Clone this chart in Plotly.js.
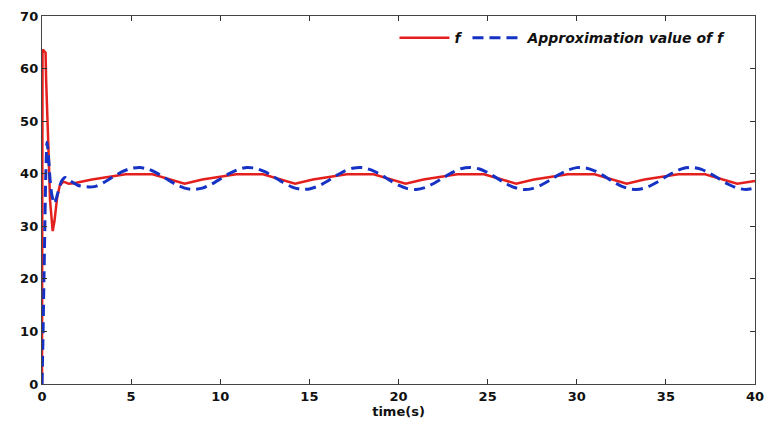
<!DOCTYPE html>
<html>
<head>
<meta charset="utf-8">
<script src="https://cdn.plot.ly/plotly-3.0.1.min.js"></script>
<style>html,body{margin:0;padding:0;background:#fff;}#chart{width:764px;height:428px;}</style>
</head>
<body>
<div id="chart"></div>
<script>
// f (red, solid)
const tF = [0, 0.03, 0.08, 0.2, 0.23, 0.3, 0.36, 0.45, 0.6, 0.7, 0.85, 1.0, 1.2, 1.5,
  1.8, 2.8, 3.8, 4.7, 6.2, 8.0,
  9.0, 10.0, 10.9, 12.4, 14.2,
  15.2, 16.2, 17.1, 18.6, 20.4,
  21.4, 22.4, 23.3, 24.8, 26.6,
  27.6, 28.6, 29.5, 31.0, 32.8,
  33.8, 34.8, 35.7, 37.2, 39.0,
  40.0];
const fVals = [0, 63.5, 63.5, 63.0, 58, 52, 45, 35, 29.1, 31, 35.5, 37.8, 38.5, 38.1,
  38.2, 38.9, 39.5, 39.9, 39.9, 38.1,
  38.9, 39.5, 39.9, 39.9, 38.1,
  38.9, 39.5, 39.9, 39.9, 38.1,
  38.9, 39.5, 39.9, 39.9, 38.1,
  38.9, 39.5, 39.9, 39.9, 38.1,
  38.9, 39.5, 39.9, 39.9, 38.1,
  38.6];

// Approximation value of f (blue, dashed)
const tA = [0, 0.05, 0.1, 0.15, 0.2, 0.28, 0.35, 0.45, 0.55, 0.7, 0.9, 1.1, 1.3, 1.6, 2.0,
  2.5, 3.0, 3.5, 4.0, 4.5, 5.0, 5.5, 6.0, 6.5, 7.0, 7.5, 8.0, 8.5, 9.0, 9.5, 10.0,
  10.5, 11.0, 11.5, 12.0, 12.5, 13.0, 13.5, 14.0, 14.5, 15.0, 15.5, 16.0, 16.5, 17.0,
  17.5, 18.0, 18.5, 19.0, 19.5, 20.0, 20.5, 21.0, 21.5, 22.0, 22.5, 23.0, 23.5, 24.0,
  24.5, 25.0, 25.5, 26.0, 26.5, 27.0, 27.5, 28.0, 28.5, 29.0, 29.5, 30.0, 30.5, 31.0,
  31.5, 32.0, 32.5, 33.0, 33.5, 34.0, 34.5, 35.0, 35.5, 36.0, 36.5, 37.0, 37.5, 38.0,
  38.5, 39.0, 39.5, 40.0];
const aVals = [0, 8, 18, 28, 38, 46, 44, 39, 36, 34.3, 36.5, 38.6, 39.3, 38.6, 37.8,
  37.5, 37.6, 38.4, 39.42, 40.38, 41.03, 41.19, 40.82, 40.02, 38.99, 37.99, 37.26, 37.0, 37.26, 37.99, 38.99,
  40.02, 40.82, 41.19, 41.03, 40.38, 39.42, 38.37, 37.51, 37.04, 37.10, 37.65, 38.57, 39.63, 40.55,
  41.10, 41.16, 40.69, 39.83, 38.78, 37.81, 37.17, 37.01, 37.38, 38.18, 39.21, 40.21, 40.94, 41.2,
  40.94, 40.21, 39.21, 38.18, 37.38, 37.01, 37.17, 37.81, 38.78, 39.83, 40.69, 41.16, 41.10, 40.55,
  39.63, 38.57, 37.65, 37.10, 37.04, 37.51, 38.37, 39.42, 40.38, 41.03, 41.19, 40.82, 40.02, 38.99,
  37.99, 37.26, 37.0, 37.26];

const seriesNames = ['f', 'Approximation value of f'];
const xTicks = [0, 5, 10, 15, 20, 25, 30, 35, 40];
const yTicks = [0, 10, 20, 30, 40, 50, 60, 70];

const FONT = 'DejaVu Sans, Liberation Sans, Arial, sans-serif';

const traces = [
  {x: tF, y: fVals, name: seriesNames[0], type: 'scatter', mode: 'lines',
   line: {color: '#e3201e', width: 2.5}},
  {x: tA, y: aVals, name: seriesNames[1], type: 'scatter', mode: 'lines',
   line: {color: '#1632c4', width: 3, dash: '11px,6px', shape: 'spline', smoothing: 0.6}}
];

const axisCommon = {
  showgrid: false, zeroline: false, showline: true, linecolor: '#444', linewidth: 1.2,
  mirror: 'ticks', ticks: 'inside', ticklen: 5, tickcolor: '#333', tickwidth: 1,
  ticklabeloverflow: 'allow',
  tickfont: {family: FONT, size: 13, color: '#111', weight: 'bold'}
};

const layout = {
  width: 764, height: 428,
  margin: {l: 42, r: 9, t: 16, b: 44},
  paper_bgcolor: '#fff', plot_bgcolor: '#fff',
  showlegend: true,
  legend: {orientation: 'h', x: 0.967, xanchor: 'right', y: 0.94, yanchor: 'middle',
    itemwidth: 50, bgcolor: 'rgba(0,0,0,0)', borderwidth: 0,
    font: {family: FONT, size: 14, color: '#111', weight: 'bold', style: 'italic'}},
  xaxis: Object.assign({}, axisCommon, {range: [0, 40], tickvals: xTicks, ticktext: xTicks.map(String),
    title: {text: 'time(s)', standoff: 4, font: {family: FONT, size: 13, color: '#111', weight: 'bold'}}}),
  yaxis: Object.assign({}, axisCommon, {range: [0, 70], tickvals: yTicks, ticktext: yTicks.map(String)})
};

Plotly.newPlot('chart', traces, layout, {displayModeBar: false, staticPlot: true});
</script>
</body>
</html>
